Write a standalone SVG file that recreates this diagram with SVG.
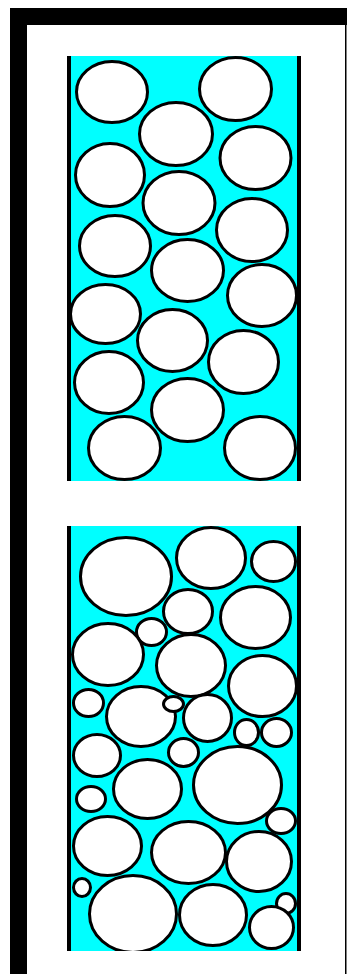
<svg xmlns="http://www.w3.org/2000/svg" width="347" height="974" viewBox="0 0 347 974">
<style>
.b{fill:#fff;stroke:#000;stroke-width:3}
.wall{fill:#000}
.liq{fill:#00ffff}
</style>
<defs>
<clipPath id="cp1"><rect x="71" y="56" width="226" height="425"/></clipPath>
<clipPath id="cp2"><rect x="71" y="526" width="226" height="425"/></clipPath>
</defs>
<rect width="347" height="974" fill="#fff"/>
<g id="frame">
<rect class="wall" x="10" y="8" width="17" height="966"/>
<rect class="wall" x="10" y="8" width="337" height="17"/>
<rect class="wall" x="345" y="8" width="1.5" height="966"/>
</g>
<g id="panel-top">
<rect class="liq" x="71" y="56" width="226" height="425"/>
<g clip-path="url(#cp1)">
<ellipse class="b" cx="112" cy="92" rx="35.5" ry="30.5"/>
<ellipse class="b" cx="235.5" cy="89" rx="36" ry="31.5"/>
<ellipse class="b" cx="176" cy="134" rx="36.5" ry="31.5"/>
<ellipse class="b" cx="255.5" cy="158" rx="35.5" ry="31.5"/>
<ellipse class="b" cx="110" cy="175" rx="34.5" ry="31.5"/>
<ellipse class="b" cx="179" cy="203" rx="36" ry="31.5"/>
<ellipse class="b" cx="252" cy="230" rx="35.5" ry="31.5"/>
<ellipse class="b" cx="115" cy="246" rx="35.5" ry="30.5"/>
<ellipse class="b" cx="187.5" cy="270.5" rx="36" ry="31"/>
<ellipse class="b" cx="262" cy="295.5" rx="34.5" ry="31"/>
<ellipse class="b" cx="105.5" cy="314" rx="35" ry="29.5"/>
<ellipse class="b" cx="172.5" cy="340.5" rx="35" ry="31"/>
<ellipse class="b" cx="243.5" cy="362" rx="35" ry="31.5"/>
<ellipse class="b" cx="109" cy="382.5" rx="34.5" ry="31"/>
<ellipse class="b" cx="187.5" cy="410" rx="36" ry="31.5"/>
<ellipse class="b" cx="124.5" cy="448" rx="36" ry="31.5"/>
<ellipse class="b" cx="260" cy="448" rx="35.5" ry="31.5"/>
</g>
<rect class="wall" x="67" y="56" width="4" height="425"/>
<rect class="wall" x="297" y="56" width="4" height="425"/>
</g>
<g id="panel-bottom">
<rect class="liq" x="71" y="526" width="226" height="425"/>
<g clip-path="url(#cp2)">
<ellipse class="b" cx="126" cy="576.5" rx="45.5" ry="39"/>
<ellipse class="b" cx="211" cy="558" rx="34.5" ry="30.5"/>
<ellipse class="b" cx="273.5" cy="561.5" rx="22" ry="20"/>
<ellipse class="b" cx="188" cy="611.5" rx="24.5" ry="22"/>
<ellipse class="b" cx="255.5" cy="617.5" rx="35" ry="31"/>
<ellipse class="b" cx="151.5" cy="632" rx="15" ry="13.5"/>
<ellipse class="b" cx="108" cy="654.5" rx="35.5" ry="31"/>
<ellipse class="b" cx="191" cy="665.5" rx="34.5" ry="31"/>
<ellipse class="b" cx="262.5" cy="686" rx="34" ry="30.5"/>
<ellipse class="b" cx="88.5" cy="703" rx="15" ry="13.5"/>
<ellipse class="b" cx="141" cy="716.5" rx="34.5" ry="30"/>
<ellipse class="b" cx="173.5" cy="704" rx="10" ry="7.5"/>
<ellipse class="b" cx="207.5" cy="718" rx="24" ry="23.5"/>
<ellipse class="b" cx="246.5" cy="732.5" rx="12" ry="13"/>
<ellipse class="b" cx="276.5" cy="732.5" rx="15" ry="14"/>
<ellipse class="b" cx="97" cy="755.5" rx="23.5" ry="21"/>
<ellipse class="b" cx="183.5" cy="752.5" rx="15" ry="14"/>
<ellipse class="b" cx="237.5" cy="785" rx="44" ry="38.5"/>
<ellipse class="b" cx="91" cy="799" rx="14.5" ry="12.5"/>
<ellipse class="b" cx="147.5" cy="789" rx="34" ry="29.5"/>
<ellipse class="b" cx="107.5" cy="846" rx="34" ry="29.5"/>
<ellipse class="b" cx="188.5" cy="852.5" rx="37" ry="31"/>
<ellipse class="b" cx="281" cy="821" rx="14.5" ry="12.5"/>
<ellipse class="b" cx="259" cy="861.5" rx="32.5" ry="30"/>
<ellipse class="b" cx="82" cy="887.5" rx="8.5" ry="9"/>
<ellipse class="b" cx="133" cy="914" rx="43.5" ry="38.5"/>
<ellipse class="b" cx="213" cy="915" rx="33.5" ry="30.5"/>
<ellipse class="b" cx="286" cy="903.5" rx="9.5" ry="10"/>
<ellipse class="b" cx="271.5" cy="927.5" rx="22" ry="21"/>
</g>
<rect class="wall" x="67" y="526" width="4" height="425"/>
<rect class="wall" x="297" y="526" width="4" height="425"/>
</g>
</svg>
